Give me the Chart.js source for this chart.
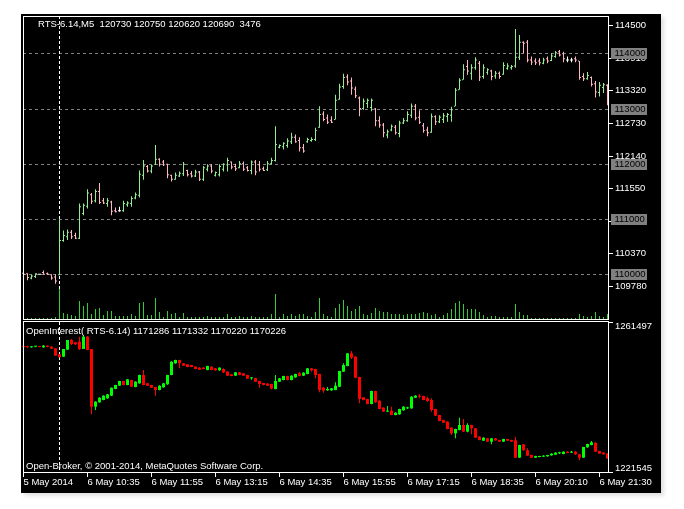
<!DOCTYPE html>
<html>
<head>
<meta charset="utf-8">
<script src="https://cdn.jsdelivr.net/npm/chart.js@4.4.1/dist/chart.umd.min.js"></script>
<style>
  html, body { margin: 0; padding: 0; background: #fff; }
  #wrap { position: relative; width: 684px; height: 509px; }
  #bg { position: absolute; left: 21px; top: 14px; width: 640px; height: 479px; background: #000;
        box-shadow: 3px 3px 4px rgba(0,0,0,0.12); }
  canvas { position: absolute; left: 0; top: 0; }
</style>
</head>
<body>
<div id="wrap">
  <div id="bg"></div>
  <canvas id="price" width="684" height="509"></canvas>
  <canvas id="oi" width="684" height="509"></canvas>
</div>
<script>
const FONT = '"Liberation Sans", Arial, sans-serif';

// RTS-6.14 M5 bars, 5 May 23:10 .. 6 May 21:40
const pOpen = [
  110020,110010,109930,109960,110000,110030,110010,109990,109950,109990,
  110610,110680,110760,110700,110650,111100,111230,111440,111330,111500,
  111330,111280,111310,111150,111150,111150,111260,111280,111380,111430,
  111790,111950,111870,111990,112080,112030,111990,111790,111720,111780,
  111820,111880,111820,111780,111850,111720,111900,111960,111790,111800,
  111900,111980,112030,111950,111930,112000,111930,111880,112030,111980,
  111910,111890,112000,112060,112300,112310,112330,112400,112480,112420,
  112290,112400,112420,112440,112660,112900,112830,112790,112800,113170,
  113400,113570,113500,113350,113190,113000,113090,113020,112990,112780,
  112700,112520,112610,112660,112550,112740,112780,112880,113040,112840,
  112690,112610,112570,112850,112760,112800,112860,112880,113040,113340,
  113520,113760,113640,113740,113820,113580,113650,113680,113590,113640,
  113620,113730,113740,113770,113930,114200,114200,113880,113860,113860,
  113820,113900,113870,113940,114030,113990,113880,113880,113900,113860,
  113580,113540,113560,113450,113290,113380,113420];
const pHigh = [
  110040,110020,109990,110020,110010,110070,110030,110000,110000,110990,
  110790,110810,110800,110750,111280,111280,111540,111470,111540,111650,
  111380,111380,111330,111210,111220,111330,111320,111410,111480,111880,
  112070,111980,111980,112340,112100,112070,112000,111800,111840,111860,
  112030,111890,111870,111890,111870,111960,111990,111990,111860,111990,
  112010,112110,112040,112000,112050,112040,111960,112060,112070,112050,
  111950,112050,112110,112680,112350,112390,112460,112560,112530,112480,
  112360,112470,112480,112650,113040,112950,112890,112860,113250,113450,
  113630,113620,113560,113400,113220,113180,113180,113180,113010,112860,
  112740,112620,112710,112700,112780,112830,112950,113090,113080,112970,
  112740,112670,112910,112880,112880,112920,112920,113030,113370,113550,
  113800,113880,113800,113930,113860,113800,113730,113700,113680,113670,
  113840,113820,113790,114440,114330,114220,114240,113940,113910,113910,
  113920,113940,114000,114040,114060,114030,113940,113920,113940,113860,
  113640,113660,113580,113500,113480,113460,113440];
const pLow = [
  109960,109890,109910,109930,109990,109990,109990,109900,109830,109980,
  110590,110620,110640,110640,110640,111070,111190,111270,111300,111270,
  111270,111220,111070,111120,111130,111130,111220,111220,111360,111390,
  111710,111840,111830,111980,111950,111960,111740,111680,111710,111760,
  111780,111770,111750,111760,111690,111690,111860,111830,111770,111770,
  111860,111860,111900,111870,111920,111870,111860,111810,111790,111860,
  111870,111870,111990,112040,112280,112260,112290,112360,112380,112220,
  112200,112380,112400,112410,112650,112770,112720,112740,112800,113160,
  113360,113420,113250,113190,112860,112980,113010,112950,112680,112650,
  112480,112460,112590,112530,112480,112720,112760,112830,112790,112720,
  112560,112500,112560,112700,112740,112740,112760,112760,113040,113340,
  113520,113610,113520,113700,113500,113540,113610,113510,113540,113540,
  113610,113700,113700,113740,113880,114000,113840,113790,113790,113780,
  113800,113820,113860,113920,113940,113840,113840,113840,113840,113520,
  113500,113520,113400,113200,113220,113280,113060];
const pClose = [
  110000,109940,109970,110010,110000,110000,110000,109930,109880,110610,
  110700,110760,110680,110650,111220,111250,111470,111320,111500,111300,
  111290,111330,111140,111130,111150,111280,111290,111370,111440,111810,
  111960,111870,111960,112080,111990,111980,111800,111720,111790,111830,
  111990,111800,111780,111850,111720,111930,111960,111870,111840,111950,
  111990,112060,111940,111910,112000,111900,111880,112030,111850,111900,
  111880,112000,112060,112350,112330,112370,112410,112480,112400,112290,
  112230,112440,112440,112600,112890,112800,112750,112750,113150,113390,
  113560,113480,113370,113230,113000,113130,113150,113150,112780,112700,
  112560,112580,112680,112560,112740,112780,112890,113040,112830,112750,
  112600,112560,112850,112760,112840,112870,112890,112980,113330,113510,
  113700,113680,113740,113880,113570,113740,113700,113580,113640,113580,
  113780,113770,113760,113930,114200,114180,113880,113840,113830,113830,
  113880,113860,113950,114010,113970,113900,113880,113880,113880,113560,
  113540,113600,113440,113300,113420,113430,113300];
const volume = [
  250,250,250,250,250,250,250,250,500,7500,
  1500,1250,1000,750,4500,3250,4000,1250,2500,2750,
  1000,2000,2000,750,750,750,750,1250,750,4000,
  4250,1000,1000,5250,1750,500,2000,1250,1500,500,
  1500,500,500,500,500,500,750,500,500,500,
  500,1250,500,500,750,500,500,750,500,500,
  500,500,1250,6250,500,1250,750,1250,750,1250,
  1250,750,500,1750,5250,1250,750,500,2750,3750,
  4750,3250,2000,2500,3250,1250,1000,1500,2750,2000,
  1750,1750,1250,1250,1250,1000,1250,1250,1250,1500,
  1750,1500,1000,1250,500,1000,1500,2500,4000,4500,
  3750,2500,2500,2500,1750,1000,500,750,750,500,
  500,500,500,3750,1750,1000,1000,250,250,250,
  250,250,250,250,250,250,250,250,250,1250,
  750,500,750,1750,750,500,1250];

// OpenInterest candles
const oiOpen = [
  1255020,1254930,1254750,1254930,1255020,1254750,1255190,1254930,1254480,1252880,
  1252260,1254130,1256700,1256080,1256260,1254310,1257590,1254310,1238950,1240100,
  1240720,1241170,1241880,1243650,1244540,1245780,1244720,1246050,1244180,1245160,
  1247380,1245160,1244720,1244180,1243380,1244100,1244900,1247380,1250490,1251380,
  1250490,1250220,1250040,1249600,1249330,1249330,1248710,1249600,1249160,1248620,
  1248980,1248270,1247560,1247200,1248090,1247830,1247380,1246490,1246580,1245780,
  1245250,1245070,1244980,1243650,1245600,1246050,1247120,1246050,1246760,1247830,
  1247200,1247650,1249160,1248980,1247650,1244010,1243300,1243300,1243390,1244270,
  1248270,1249780,1253150,1252260,1246850,1241430,1240990,1239660,1243120,1240550,
  1238680,1237620,1237880,1236730,1236910,1237970,1238500,1238500,1241340,1241790,
  1241790,1241170,1240720,1238330,1236730,1235400,1234950,1233350,1231840,1232730,
  1234060,1232290,1234060,1233180,1230960,1229890,1230510,1229630,1230510,1230070,
  1229630,1230340,1230070,1229980,1225360,1228920,1227320,1226070,1225360,1225540,
  1225630,1225720,1225990,1226160,1226520,1226340,1226960,1226700,1226960,1226250,
  1225360,1228120,1228740,1229360,1227140,1226700,1226430];
const oiHigh = [
  1255190,1255190,1255020,1255100,1255100,1255370,1255280,1255020,1254480,1252880,
  1254310,1256700,1256970,1256260,1257590,1257770,1257770,1254310,1240370,1241430,
  1241970,1242320,1244080,1244800,1245870,1245870,1246320,1246140,1245700,1247470,
  1248710,1245250,1244800,1244270,1244630,1245250,1247470,1251020,1251470,1251470,
  1250580,1250310,1250130,1249690,1249420,1249420,1249870,1249690,1249250,1249420,
  1249160,1248360,1247650,1248180,1248180,1247910,1247470,1246850,1246670,1245870,
  1245340,1245160,1245070,1247380,1246580,1247200,1247200,1247290,1247740,1248180,
  1248090,1249250,1249250,1249070,1247740,1244190,1244190,1243920,1245430,1248530,
  1250490,1253240,1253770,1252350,1246940,1241520,1241080,1243210,1243210,1240630,
  1238770,1239120,1238950,1237440,1238410,1239040,1238950,1241700,1241970,1242230,
  1241880,1241610,1241170,1238410,1236820,1235480,1235040,1233440,1233090,1236020,
  1235660,1234510,1234150,1233260,1231050,1230780,1230600,1230600,1230600,1230160,
  1230420,1230420,1230160,1230960,1228830,1229000,1227850,1226160,1225900,1225900,
  1225990,1226160,1226520,1226780,1226960,1227050,1227050,1227140,1227050,1226340,
  1228290,1229090,1229800,1229450,1227230,1226780,1226520];
const oiLow = [
  1254660,1254660,1254660,1254750,1254750,1254660,1254750,1254310,1252530,1252090,
  1252260,1254130,1255370,1255370,1254040,1254310,1253950,1236900,1238060,1240010,
  1240630,1241080,1241790,1243560,1244450,1244630,1244630,1244180,1244100,1245070,
  1244630,1244450,1243900,1241880,1243290,1244000,1244800,1247290,1250400,1249160,
  1249780,1249420,1249420,1248890,1248710,1248890,1248620,1248620,1248530,1248530,
  1247910,1247110,1247030,1247110,1247290,1247120,1246310,1246140,1245520,1244010,
  1244630,1244450,1243560,1243560,1245520,1245960,1245960,1245960,1246670,1247030,
  1247110,1247560,1248270,1246490,1242760,1242680,1243210,1243210,1243300,1244190,
  1248180,1249690,1251640,1246490,1239830,1240630,1239570,1239570,1240010,1238240,
  1237530,1237530,1236640,1236640,1236820,1237880,1238330,1238410,1241260,1241170,
  1240630,1240280,1237620,1236460,1235040,1234600,1232910,1231400,1230510,1232640,
  1232200,1232110,1231580,1230600,1229980,1229800,1229540,1228920,1229890,1229540,
  1229540,1229800,1229540,1225280,1225280,1227230,1225810,1225280,1225280,1225450,
  1225540,1225630,1225900,1226070,1226340,1226250,1226520,1226610,1226160,1224650,
  1225280,1228030,1228650,1226870,1226340,1226160,1225100];
const oiClose = [
  1254840,1254750,1254930,1255020,1254840,1255190,1254840,1254400,1252530,1252090,
  1254310,1256700,1255640,1255550,1254310,1257590,1254040,1238950,1240280,1241340,
  1241880,1242230,1243990,1244720,1245780,1244720,1246230,1244270,1245610,1247380,
  1244720,1244540,1244000,1243380,1244540,1245160,1247380,1250930,1251380,1250490,
  1249870,1249510,1249510,1248980,1248800,1248980,1249780,1248710,1248620,1249330,
  1248090,1247200,1247120,1248090,1247380,1247200,1246400,1246670,1245600,1244980,
  1244720,1244540,1243740,1245780,1246490,1247120,1246050,1247200,1247650,1247120,
  1248000,1249160,1248620,1247380,1243390,1243210,1243650,1243830,1244540,1248450,
  1250040,1253150,1252000,1246670,1240990,1240720,1239660,1243120,1240100,1238330,
  1237620,1237880,1236730,1237350,1238330,1238950,1238680,1241610,1241880,1241610,
  1240720,1240460,1238060,1236550,1235130,1234690,1233000,1231840,1233000,1234060,
  1232290,1234060,1233180,1230690,1230070,1230690,1229630,1230510,1229980,1229630,
  1230340,1229890,1229630,1225360,1228740,1227320,1225900,1225360,1225810,1225810,
  1225900,1226070,1226430,1226700,1226690,1226960,1226610,1226960,1226250,1225360,
  1228200,1229000,1229450,1226960,1226430,1226250,1225190];

// axes and levels
const timeTickIdx = [0, 16, 32, 48, 64, 80, 96, 112, 128, 144];
const timeTickText = ['5 May 2014', '6 May 10:35', '6 May 11:55', '6 May 13:15', '6 May 14:35',
                      '6 May 15:55', '6 May 17:15', '6 May 18:35', '6 May 20:10', '6 May 21:30'];
const priceTicks = [109780, 110370, 110960, 111550, 112140, 112730, 113320, 113910, 114500];
const priceLevels = [110000, 111000, 112000, 113000, 114000];
const priceMin = 109190, priceMax = 114675;
const volMax = 75750;
const oiTicks = [1221545, 1261497];
const daySepIdx = 9;
const barMin = -0.125, barMax = 146.125;   // bar centres land on pixel centres

const headerText = 'RTS-6.14,M5  120730 120750 120620 120690  3476';
const oiHeaderText = 'OpenInterest( RTS-6.14) 1171286 1171332 1170220 1170226';
const copyText = 'Open-Broker, \u00a9 2001-2014, MetaQuotes Software Corp.';

const bars = pOpen.map((_, i) => i);

// bar colours
const UP = '#90ee90', DOWN = '#ffb6c1', DOJI = '#ffffff';
const barCol = pOpen.map((o, i) => pClose[i] > o ? UP : (pClose[i] < o ? DOWN : DOJI));
const candleCol = oiOpen.map((o, i) => oiClose[i] >= o ? '#00ff00' : '#ff0000');

// open/close ticks are 1px high (about 18 points)
const openTicks = pOpen.map(v => [v - 9, v + 9]);
const closeTicks = pClose.map(v => [v - 9, v + 9]);
const hiLo = pLow.map((l, i) => [l, pHigh[i]]);
const oiWick = oiLow.map((l, i) => [l, oiHigh[i]]);
const oiBody = oiOpen.map((o, i) => [o, oiClose[i]]);

const thin = { borderWidth: 0, inflateAmount: 0, barThickness: 1, maxBarThickness: 1, clip: 2 };
const font = { family: FONT, size: 9.5 };

function dashV(ctx, x, top, bottom) {
  ctx.save();
  ctx.strokeStyle = '#ffffff';
  ctx.lineWidth = 1;
  ctx.setLineDash([3, 2]);
  ctx.beginPath();
  ctx.moveTo(x, top);
  ctx.lineTo(x, bottom);
  ctx.stroke();
  ctx.restore();
}

const mainDeco = {
  id: 'mainDeco',
  beforeDatasetsDraw(chart) {
    const { ctx, chartArea: a, scales: { x, y } } = chart;
    ctx.save();
    ctx.strokeStyle = '#808080';
    ctx.lineWidth = 1;
    ctx.setLineDash([3, 3]);
    priceLevels.forEach(v => {
      const py = Math.round(y.getPixelForValue(v)) + 0.5;
      ctx.beginPath();
      ctx.moveTo(a.left, py);
      ctx.lineTo(a.right, py);
      ctx.stroke();
    });
    ctx.restore();
    dashV(chart.ctx, Math.floor(x.getPixelForValue(daySepIdx)) + 0.5, a.top, a.bottom);
  },
  afterDraw(chart) {
    const { ctx, chartArea: a, scales: { y } } = chart;
    ctx.save();
    ctx.strokeStyle = '#ffffff';
    ctx.lineWidth = 1;
    ctx.strokeRect(Math.round(a.left) + 0.5, a.top + 0.5, Math.round(a.right - a.left), a.bottom - a.top);
    ctx.font = '9.5px ' + FONT;
    ctx.textBaseline = 'middle';
    priceLevels.forEach(v => {
      const py = Math.round(y.getPixelForValue(v));
      ctx.fillStyle = '#808080';
      ctx.fillRect(611, py - 5, 36, 11);
      ctx.fillStyle = '#000000';
      ctx.fillText(String(v), 614.5, py + 0.5);
    });
    ctx.fillStyle = '#ffffff';
    ctx.fillText(headerText, 38, 24);
    ctx.restore();
  }
};

const oiDeco = {
  id: 'oiDeco',
  beforeDatasetsDraw(chart) {
    const { chartArea: a, scales: { x } } = chart;
    dashV(chart.ctx, Math.floor(x.getPixelForValue(daySepIdx)) + 0.5, a.top, a.bottom);
  },
  afterDraw(chart) {
    const { ctx, chartArea: a } = chart;
    ctx.save();
    ctx.strokeStyle = '#ffffff';
    ctx.lineWidth = 1;
    ctx.strokeRect(Math.round(a.left) + 0.5, a.top - 0.5, Math.round(a.right - a.left), a.bottom - a.top + 1);
    ctx.font = '9.5px ' + FONT;
    ctx.textBaseline = 'middle';
    ctx.fillStyle = '#ffffff';
    ctx.fillText(oiHeaderText, 26, 331);
    ctx.fillText(copyText, 26, 466);
    ctx.restore();
  }
};

Chart.defaults.font.family = FONT;
Chart.defaults.color = '#ffffff';

new Chart(document.getElementById('price'), {
  type: 'bar',
  data: {
    labels: bars,
    datasets: [
      { data: openTicks, backgroundColor: barCol, stack: 'o', yAxisID: 'y', ...thin },
      { data: hiLo, backgroundColor: barCol, stack: 'w', yAxisID: 'y', ...thin },
      { data: closeTicks, backgroundColor: barCol, stack: 'c', yAxisID: 'y', ...thin },
      { data: volume, backgroundColor: '#32cd32', yAxisID: 'vol', grouped: false, ...thin }
    ]
  },
  options: {
    responsive: false,
    animation: false,
    devicePixelRatio: 1,
    layout: { padding: { left: 23, top: 16, right: 0, bottom: 190 } },
    plugins: { legend: { display: false }, tooltip: { enabled: false } },
    scales: {
      x: { type: 'linear', display: false, offset: false, stacked: false, min: barMin, max: barMax },
      y: {
        position: 'right', min: priceMin, max: priceMax, stacked: false,
        afterFit: s => { s.width = 76; },
        afterBuildTicks: s => { s.ticks = priceTicks.map(v => ({ value: v })); },
        grid: { drawOnChartArea: false, color: '#ffffff', tickLength: 5 },
        border: { display: false },
        ticks: { color: '#ffffff', padding: 2, font, callback: v => String(v) }
      },
      vol: { display: false, min: 0, max: volMax, stacked: false }
    }
  },
  plugins: [mainDeco]
});

new Chart(document.getElementById('oi'), {
  type: 'bar',
  data: {
    labels: bars,
    datasets: [
      { data: oiWick, backgroundColor: candleCol, grouped: false, ...thin },
      { data: oiBody, backgroundColor: candleCol, grouped: false, borderWidth: 0, inflateAmount: 0,
        barThickness: 3, maxBarThickness: 3, minBarLength: 1, clip: 2 }
    ]
  },
  options: {
    responsive: false,
    animation: false,
    devicePixelRatio: 1,
    layout: { padding: { left: 23, top: 322, right: 0, bottom: 0 } },
    plugins: { legend: { display: false }, tooltip: { enabled: false } },
    scales: {
      x: {
        type: 'linear', offset: false, stacked: false, min: barMin, max: barMax,
        afterFit: s => { s.height = 37; },
        afterBuildTicks: s => { s.ticks = timeTickIdx.map(v => ({ value: v })); },
        grid: { drawOnChartArea: false, offset: false, color: '#ffffff', tickLength: 5 },
        border: { display: false },
        ticks: {
          color: '#ffffff', autoSkip: false, maxRotation: 0, align: 'start', padding: 0, font,
          callback: v => timeTickText[timeTickIdx.indexOf(v)]
        }
      },
      y: {
        position: 'right', min: oiTicks[0], max: oiTicks[1], stacked: false,
        afterFit: s => { s.width = 76; },
        afterBuildTicks: s => { s.ticks = oiTicks.map(v => ({ value: v })); },
        grid: { drawOnChartArea: false, color: '#ffffff', tickLength: 5 },
        border: { display: false },
        ticks: {
          color: '#ffffff', padding: 2, font: { family: FONT, size: 9.5, lineHeight: 0.85 },
          // MT4 keeps the two labels inside the window
          callback: v => v === oiTicks[1] ? ['', String(v)] : [String(v), '']
        }
      }
    }
  },
  plugins: [oiDeco]
});
</script>
</body>
</html>
